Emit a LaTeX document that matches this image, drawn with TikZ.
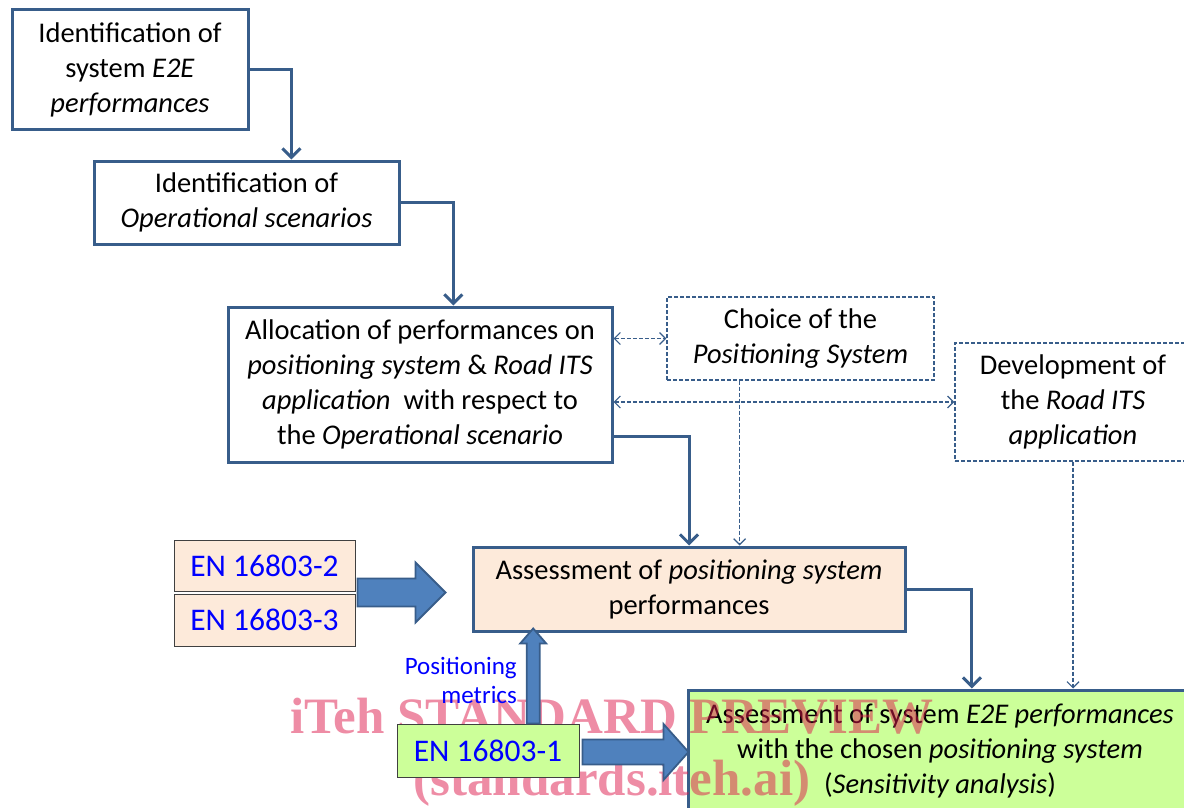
\documentclass[tikz,border=0pt]{standalone}
\usepackage{fontspec}
\setmainfont{Carlito}
\newfontfamily\wmfont{Liberation Serif}
\usetikzlibrary{arrows.meta, calc}
\definecolor{flowblue}{HTML}{385D8A}
\definecolor{arrowfill}{HTML}{4F81BD}
\definecolor{peach}{HTML}{FDEADA}
\definecolor{lightlime}{HTML}{CCFF99}
\definecolor{enblue}{HTML}{0000FF}
\definecolor{wmpink}{RGB}{221,25,75}

\begin{document}
\begin{tikzpicture}[x=1pt, y=-1pt,
    every node/.style={font=\fontsize{28.5}{35}\selectfont, inner sep=0pt, align=center},
    box/.style={draw=flowblue, line width=3pt, fill=white},
    dbox/.style={draw=flowblue, line width=1.2pt, dash pattern=on 4pt off 2pt, fill=white},
    enbox/.style={draw=black!75, line width=1pt, text=enblue, font=\fontsize{31.5}{38}\selectfont},
    flow/.style={draw=flowblue, line width=3pt, -{Straight Barb[length=9pt,width=18pt]}},
    dflow/.style={draw=flowblue, line width=1.2pt, dash pattern=on 4pt off 2pt},
    barrow/.style={draw=flowblue, line width=1.8pt, fill=arrowfill},
    wm/.style={font=\wmfont\bfseries\fontsize{51}{62}\selectfont, text=wmpink, opacity=0.5, anchor=base}]
  \useasboundingbox (0,0) rectangle (1184,808);
  \clip (0,0) rectangle (1184,808);

  % process boxes
  \node[box, minimum width=236pt, minimum height=119pt] (e2e) at (130,69.5)
    {Identification of\\system \textit{E2E}\\\textit{performances}};
  \node[box, minimum width=305pt, minimum height=83pt] (opsc) at (246.5,202.5)
    {Identification of\\\textit{Operational scenarios}};
  \node[box, minimum width=384pt, minimum height=155pt] (alloc) at (420,384.5)
    {Allocation of performances on\\\textit{positioning system} \& \textit{Road ITS}\\\textit{application}\ \ with respect to\\the \textit{Operational scenario}};
  \node[dbox, minimum width=267pt, minimum height=83pt] (choice) at (800.5,338.5)
    {Choice of the\\\textit{Positioning System}};
  \node[dbox, minimum width=236pt, minimum height=118pt] (devel) at (1073,402)
    {Development of\\the \textit{Road ITS}\\\textit{application}};
  \node[box, fill=peach, minimum width=432pt, minimum height=84pt] (posass) at (689,589)
    {Assessment of \textit{positioning system}\\performances};
  \node[box, fill=lightlime, minimum width=504pt, minimum height=122pt] (sysass) at (940,751)
    {Assessment of system \textit{E2E performances}\\with the chosen \textit{positioning system}\\(\textit{Sensitivity analysis})};

  % flow
  \draw[flow] (e2e.east) -| ($(opsc.north west)!0.646!(opsc.north east)$);
  \draw[flow] (opsc.east) -| ($(alloc.north west)!0.586!(alloc.north east)$);
  \draw[flow] ($(alloc.north east)!0.826!(alloc.south east)$) -| (posass.north);
  \draw[flow] (posass.east) -| ($(sysass.north west)!0.563!(sysass.north east)$);
  \draw[dflow, {Straight Barb[length=6pt,width=12pt]}-{Straight Barb[length=6pt,width=12pt]}]
    (choice.west -| alloc.east) -- (choice.west);
  \draw[dflow, {Straight Barb[length=6pt,width=12pt]}-{Straight Barb[length=6pt,width=12pt]}]
    (devel.west -| alloc.east) -- (devel.west);
  \draw[dflow, -{Straight Barb[length=6pt,width=12pt]}]
    ($(choice.south west)!0.273!(choice.south east)$) coordinate (cs) -- (cs |- posass.north);
  \draw[dflow, -{Straight Barb[length=6pt,width=12pt]}] (devel.south) -- (devel.south |- sysass.north);

  % watermark
  \node[wm] (wma) at (612,733) {iTeh STANDARD PREVIEW};
  \node[wm] (wmb) at (612,795) {(standards.iteh.ai)};

  % standards
  \node[enbox, fill=peach, minimum width=181pt, minimum height=51pt] (enb) at (264.5,565.5) {EN 16803-2};
  \node[enbox, fill=peach, minimum width=181pt, minimum height=52pt] (enc) at (264.5,620) {EN 16803-3};
  \node[enbox, fill=lightlime, minimum width=182pt, minimum height=53pt] (ena) at (488,750.5) {EN 16803-1};
  \node[text=enblue, font=\fontsize{25}{29}\selectfont, align=right, anchor=east] (metr) at (517,680)
    {Positioning\\metrics};

  \draw[barrow] ($(enb.south east)!0.5!(enc.north east)$) ++(2,-14) -- ++(58,0) -- ++(0,-16)
    -- ++(30,30) -- ++(-30,30) -- ++(0,-16) -- ++(-58,0) -- cycle;
  \draw[barrow] ($(ena.north west)!0.747!(ena.north east)$) ++(-6.5,0) -- ++(0,-80) -- ++(-6.5,0)
    -- ++(13,-15) -- ++(13,15) -- ++(-6.5,0) -- ++(0,80) -- cycle;
  \draw[barrow] ($(ena.east)+(3,1.5)$) ++(0,-12.5) -- ++(81,0) -- ++(0,-15.5)
    -- ++(25,28) -- ++(-25,28) -- ++(0,-15.5) -- ++(-81,0) -- cycle;
\end{tikzpicture}
\end{document}
